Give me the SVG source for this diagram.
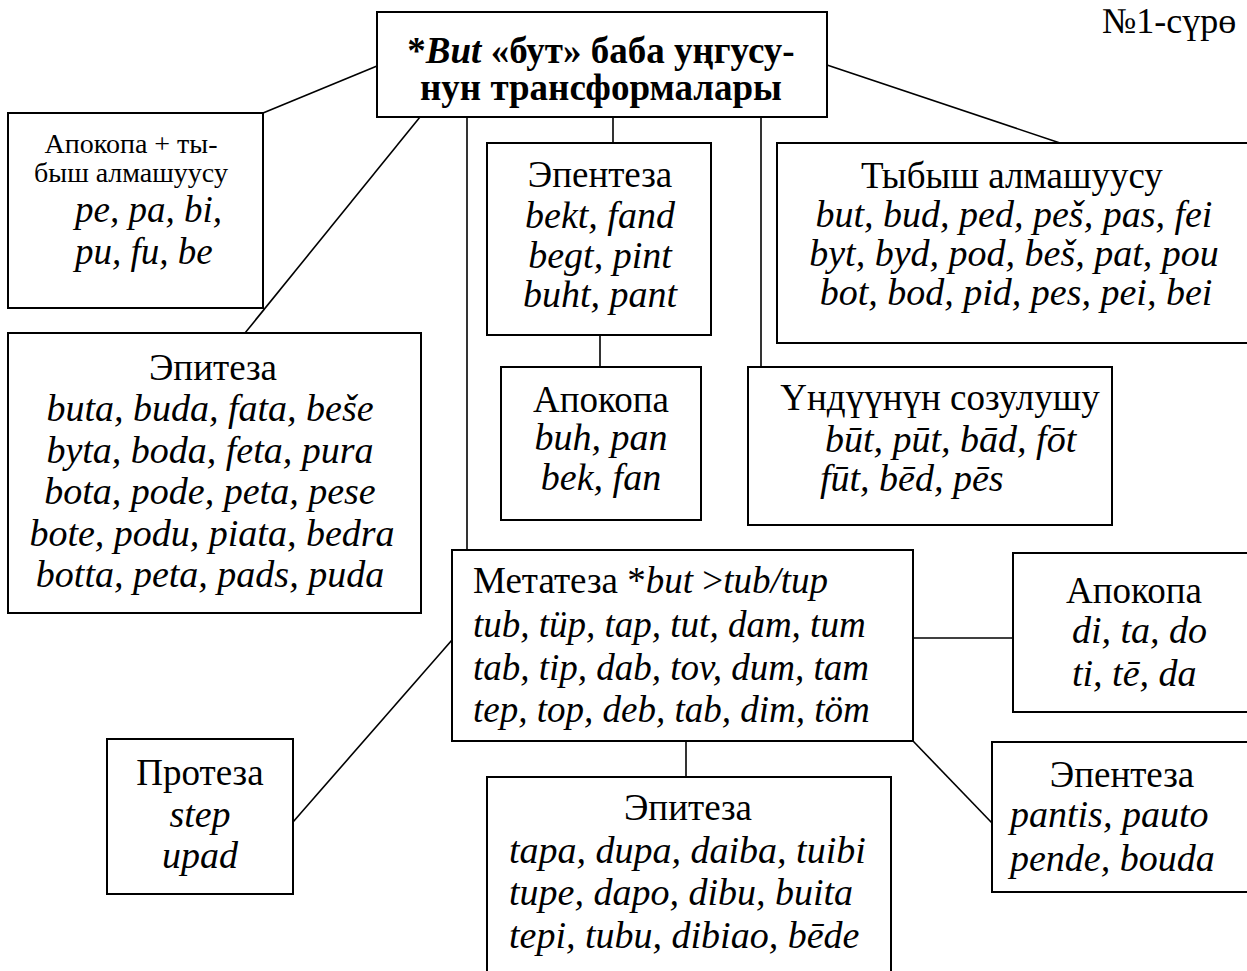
<svg xmlns="http://www.w3.org/2000/svg" width="1247" height="971" viewBox="0 0 1247 971">
<style>
.box{fill:#fff;stroke:#000;stroke-width:2}
.ln{fill:none;stroke:#000;stroke-width:1.6}
text{font-family:"Liberation Serif","Times New Roman",serif;fill:#000}
.r{font-size:37px}
.i{font-size:38px;font-style:italic}
.s{font-size:28px}
.b{font-size:37px;font-weight:bold}
.m{text-anchor:middle}
</style>
<rect width="1247" height="971" fill="#fff"/>
<g id="connectors">
<line class="ln" x1="377" y1="66" x2="263" y2="113"/>
<line class="ln" x1="420" y1="117" x2="245" y2="333"/>
<line class="ln" x1="467" y1="117" x2="467" y2="550"/>
<line class="ln" x1="613" y1="117" x2="613" y2="143"/>
<line class="ln" x1="761" y1="117" x2="761" y2="367"/>
<line class="ln" x1="827" y1="65" x2="1060" y2="143"/>
<line class="ln" x1="600" y1="335" x2="600" y2="367"/>
<line class="ln" x1="913" y1="638" x2="1013" y2="638"/>
<line class="ln" x1="452" y1="640" x2="293" y2="822"/>
<line class="ln" x1="686" y1="741" x2="686" y2="777"/>
<line class="ln" x1="913" y1="741" x2="992" y2="823"/>
</g>
<g id="label">
<text class="r" x="1102" y="33" style="font-size:36px">№1-сүрө</text>
</g>
<g id="root">
<rect class="box" x="377" y="12" width="450" height="105"/>
<text class="b m" x="601" y="63">*<tspan font-style="italic">But</tspan> «бут» баба уңгусу-</text>
<text class="b m" x="601" y="100">нун трансформалары</text>
</g>
<g id="apokopa-alm">
<rect class="box" x="8" y="113" width="255" height="195"/>
<text class="s m" x="131" y="153">Апокопа + ты-</text>
<text class="s m" x="131" y="182">быш алмашуусу</text>
<text class="i" x="75" y="222" style="font-size:37px">pe, pa, bi,</text>
<text class="i" x="75" y="264" style="font-size:37px">pu, fu, be</text>
</g>
<g id="epiteza-left">
<rect class="box" x="8" y="333" width="413" height="280"/>
<text class="r m" x="213" y="380">Эпитеза</text>
<text class="i m" x="210" y="421">buta, buda, fata, beše</text>
<text class="i m" x="210" y="463">byta, boda, feta, pura</text>
<text class="i m" x="210" y="504">bota, pode, peta, pese</text>
<text class="i m" x="212" y="546">bote, podu, piata, bedra</text>
<text class="i m" x="210" y="587">botta, peta, pads, puda</text>
</g>
<g id="epenteza-mid">
<rect class="box" x="487" y="143" width="224" height="192"/>
<text class="r m" x="600" y="187">Эпентеза</text>
<text class="i m" x="600" y="228">bekt, fand</text>
<text class="i m" x="600" y="268">begt, pint</text>
<text class="i m" x="600" y="307">buht, pant</text>
</g>
<g id="apokopa-mid">
<rect class="box" x="501" y="367" width="200" height="153"/>
<text class="r m" x="601" y="412">Апокопа</text>
<text class="i m" x="601" y="450">buh, pan</text>
<text class="i m" x="601" y="490">bek, fan</text>
</g>
<g id="tybysh">
<rect class="box" x="777" y="143" width="490" height="200"/>
<text class="r m" x="1012" y="188">Тыбыш алмашуусу</text>
<text class="i m" x="1014" y="227">but, bud, ped, peš, pas, fei</text>
<text class="i m" x="1014" y="266">byt, byd, pod, beš, pat, pou</text>
<text class="i m" x="1016" y="305">bot, bod, pid, pes, pei, bei</text>
</g>
<g id="undu">
<rect class="box" x="748" y="367" width="364" height="158"/>
<text class="r m" x="940" y="410">Үндүүнүн созулушу</text>
<text class="i" x="825" y="452">būt, pūt, bād, fōt</text>
<text class="i" x="820" y="491">fūt, bēd, pēs</text>
</g>
<g id="metateza">
<rect class="box" x="452" y="550" width="461" height="191"/>
<text class="r" x="473" y="593">Метатеза *<tspan font-style="italic">but</tspan> &gt;<tspan font-style="italic">tub/tup</tspan></text>
<text class="i" x="473" y="637" style="font-size:37px">tub, tüp, tap, tut, dam, tum</text>
<text class="i" x="473" y="680" style="font-size:37px">tab, tip, dab, tov, dum, tam</text>
<text class="i" x="473" y="722" style="font-size:37px">tep, top, deb, tab, dim, töm</text>
</g>
<g id="apokopa-right">
<rect class="box" x="1013" y="553" width="260" height="159"/>
<text class="r m" x="1134" y="603">Апокопа</text>
<text class="i" x="1072" y="643">di, ta, do</text>
<text class="i" x="1072" y="686">ti, tē, da</text>
</g>
<g id="epenteza-right">
<rect class="box" x="992" y="742" width="280" height="150"/>
<text class="r m" x="1122" y="787">Эпентеза</text>
<text class="i" x="1010" y="827">pantis, pauto</text>
<text class="i" x="1010" y="871">pende, bouda</text>
</g>
<g id="proteza">
<rect class="box" x="107" y="739" width="186" height="155"/>
<text class="r m" x="200" y="785">Протеза</text>
<text class="i m" x="200" y="827">step</text>
<text class="i m" x="200" y="868">upad</text>
</g>
<g id="epiteza-bottom">
<rect class="box" x="487" y="777" width="404" height="220"/>
<text class="r m" x="688" y="820">Эпитеза</text>
<text class="i" x="509" y="863">tapa, dupa, daiba, tuibi</text>
<text class="i" x="509" y="905">tupe, dapo, dibu, buita</text>
<text class="i" x="509" y="948">tepi, tubu, dibiao, bēde</text>
</g>
</svg>
